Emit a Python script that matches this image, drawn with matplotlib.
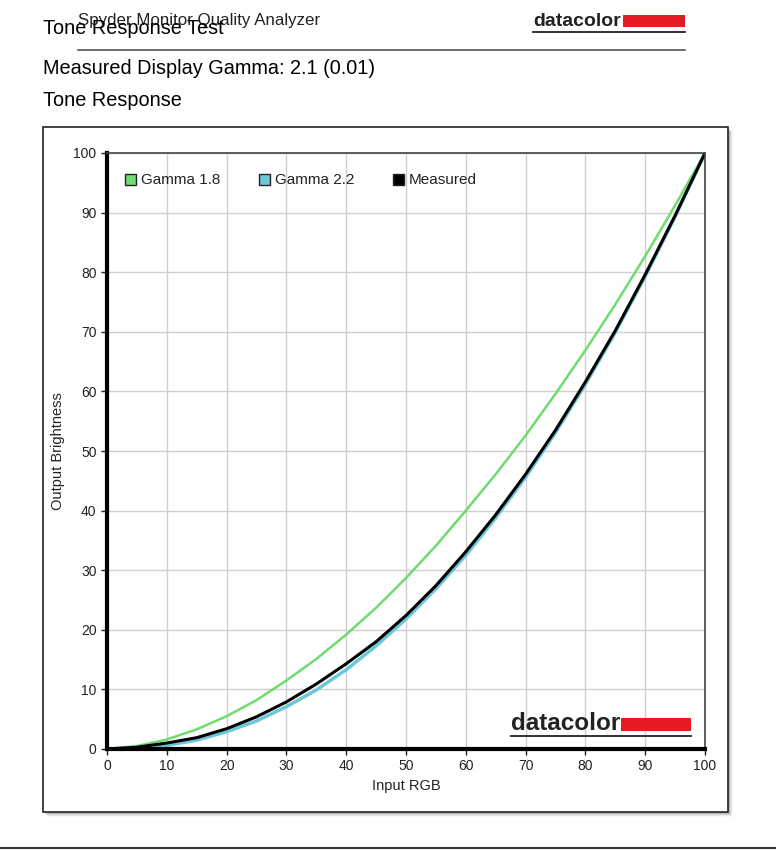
import matplotlib
matplotlib.use("Agg")
import matplotlib.pyplot as plt
from matplotlib.patches import Rectangle
from matplotlib.lines import Line2D

plt.rcParams['font.family'] = ['Liberation Sans', 'DejaVu Sans']

# Data
x_vals = [0, 5, 10, 15, 20, 25, 30, 35, 40, 45, 50, 55, 60, 65, 70, 75, 80, 85, 90, 95, 100]
gamma18 = [0, 0.5, 1.6, 3.3, 5.5, 8.2, 11.5, 15.1, 19.2, 23.7, 28.7, 34.1, 40.0, 46.1, 52.6, 59.6, 66.9, 74.6, 82.7, 91.2, 100]
gamma22 = [0, 0.1, 0.6, 1.5, 2.9, 4.7, 7.1, 9.9, 13.3, 17.3, 21.8, 26.9, 32.5, 38.8, 45.6, 53.1, 61.2, 69.9, 79.3, 89.3, 100]
measured = [0, 0.3, 1.0, 1.9, 3.4, 5.4, 7.9, 10.9, 14.3, 18.0, 22.4, 27.4, 33.1, 39.3, 46.1, 53.5, 61.6, 70.2, 79.6, 89.5, 100]
series_names = ["Gamma 1.8", "Gamma 2.2", "Measured"]
series_colors = ["#6fdc6f", "#6cc7da", "#000000"]
x_ticks = [0, 10, 20, 30, 40, 50, 60, 70, 80, 90, 100]
y_ticks = [0, 10, 20, 30, 40, 50, 60, 70, 80, 90, 100]

W, H = 776, 850
fig = plt.figure(figsize=(W / 100, H / 100), dpi=100)

def fx(px):
    return px / W

def fy(py):
    return 1 - py / H

# Header texts
fig.text(fx(78), fy(21), "Spyder Monitor Quality Analyzer", fontsize=12.2, va='center', ha='left', color='#222222')
fig.text(fx(43), fy(28), "Tone Response Test", fontsize=14.3, va='center', ha='left', color='#000000')
fig.text(fx(43), fy(68), "Measured Display Gamma: 2.1 (0.01)", fontsize=14.3, va='center', ha='left')
fig.text(fx(43), fy(100), "Tone Response", fontsize=14.3, va='center', ha='left')
fig.add_artist(Line2D([fx(78), fx(685)], [fy(50), fy(50)], color='#555555', lw=1.2))
fig.add_artist(Line2D([0, 1], [fy(848), fy(848)], color='#333333', lw=1.5))

def logo(x0, xbar0, xbar1, yc, size, half, uy):
    fig.text(fx(x0), fy(yc), "datacolor", fontsize=size, fontweight='bold', va='center', ha='left',
             color='#222222', zorder=10)
    fig.add_artist(Rectangle((fx(xbar0), fy(yc + half)), fx(xbar1) - fx(xbar0), fy(yc - half) - fy(yc + half),
                             facecolor='#e31b23', edgecolor='none', zorder=10))
    fig.add_artist(Line2D([fx(x0), fx(xbar1)], [fy(uy), fy(uy)], color='#222222', lw=1.3, zorder=10))

logo(533, 623, 685, 21, 14, 6, 32)
logo(511, 621, 691, 724, 17.5, 6.5, 736)

# Chart frame with shadow
for i, a in enumerate([0.12, 0.09, 0.06, 0.03]):
    off = i + 2
    fig.add_artist(Rectangle((fx(43 + off), fy(812 + off)), fx(685), fy(0) - fy(685),
                             facecolor='black', alpha=a, edgecolor='none', zorder=0))
fig.add_artist(Rectangle((fx(43), fy(812)), fx(685), fy(0) - fy(685),
                         facecolor='white', edgecolor='#222222', lw=1.2, zorder=1))

ax = fig.add_axes([fx(107), fy(749), fx(705) - fx(107), fy(153) - fy(749)], zorder=2)
ax.set_xlim(0, 100)
ax.set_ylim(0, 100)
ax.set_xticks(x_ticks)
ax.set_yticks(y_ticks)
ax.grid(True, color='#d0d0d0', lw=1)
ax.set_axisbelow(True)
ax.tick_params(labelsize=10, colors='#222222', length=4, width=1)
for s in ['top', 'right']:
    ax.spines[s].set_color('#444444')
    ax.spines[s].set_linewidth(1.2)
for s in ['left', 'bottom']:
    ax.spines[s].set_color('black')
    ax.spines[s].set_linewidth(3)
ax.set_xlabel("Input RGB", fontsize=10.5, color='#222222', labelpad=4)
ax.set_ylabel("Output Brightness", fontsize=10.5, color='#222222', labelpad=6)

ax.plot(x_vals, gamma18, color=series_colors[0], lw=1.8, label=series_names[0])
ax.plot(x_vals, gamma22, color=series_colors[1], lw=2.5, label=series_names[1])
ax.plot(x_vals, measured, color=series_colors[2], lw=2.2, label=series_names[2])

# Legend (fixed-pitch items as in the reference)
leg_x = [125, 259, 393]
leg_y = 179
for xp, name, col in zip(leg_x, series_names, series_colors):
    fig.add_artist(Rectangle((fx(xp), fy(leg_y + 5.5)), fx(11), fy(0) - fy(11),
                             facecolor=col, edgecolor='#222222', lw=1, zorder=10))
    fig.text(fx(xp + 16), fy(leg_y + 1.5), name, fontsize=11, va='center', ha='left', color='#222222', zorder=10)

fig.savefig("out.png", dpi=100)
